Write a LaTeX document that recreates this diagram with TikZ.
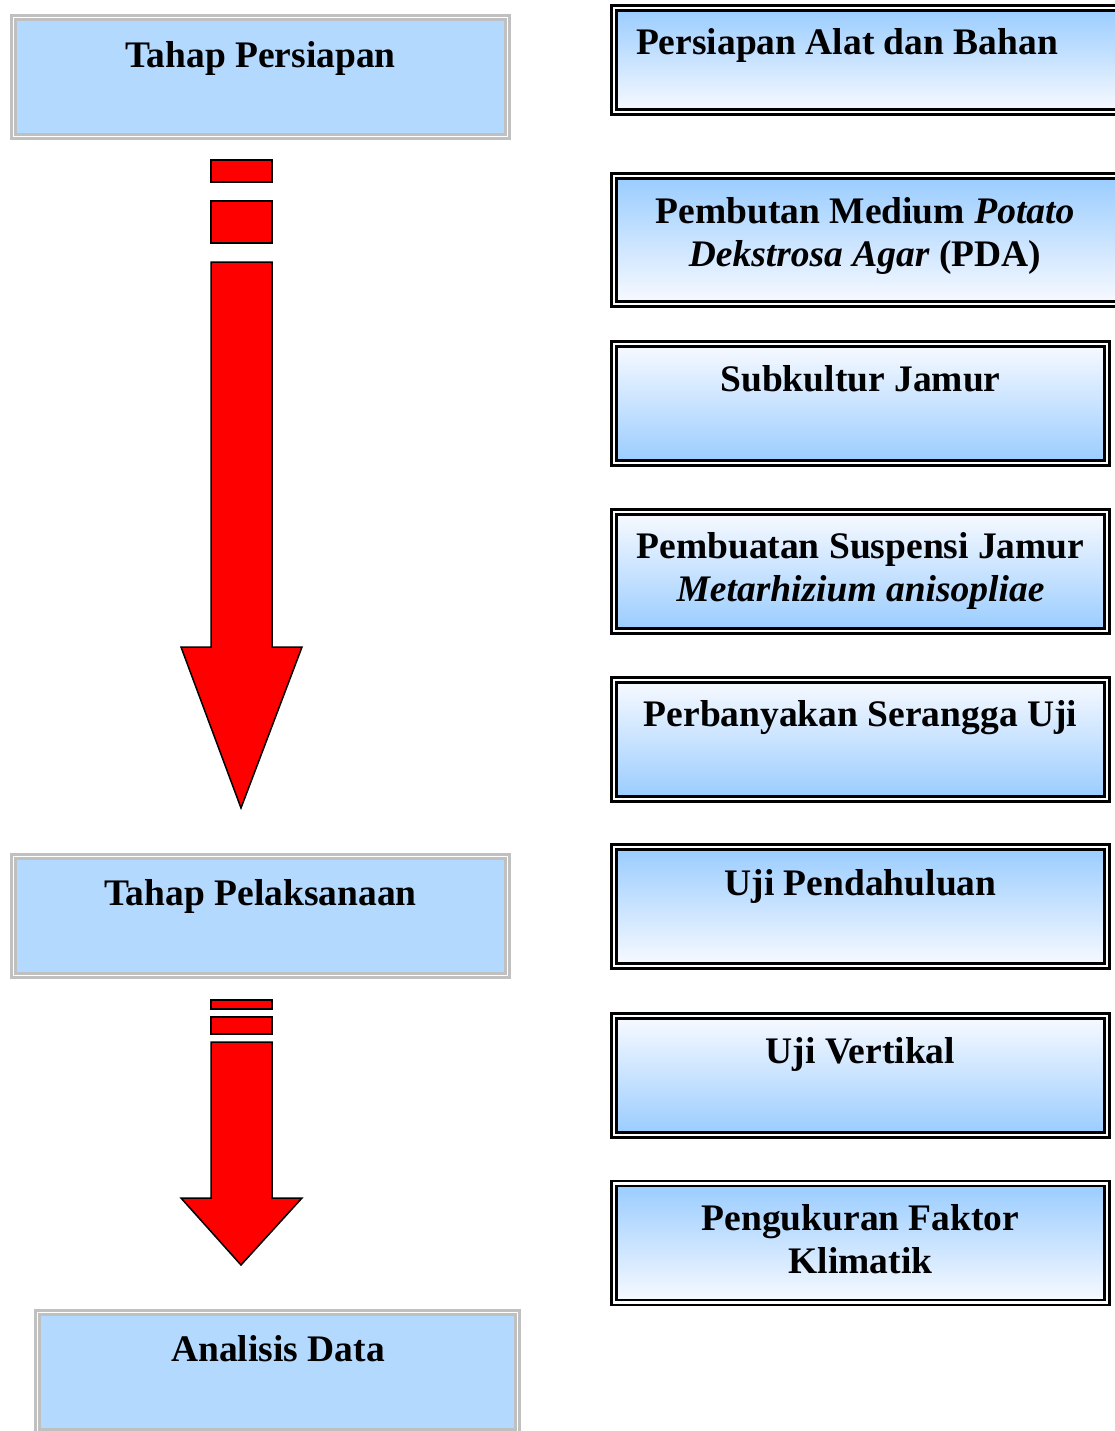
\documentclass[tikz,border=0pt]{standalone}
\usepackage{fontspec}
\setmainfont{Liberation Serif}
\definecolor{stagefill}{RGB}{179,217,255}
\definecolor{stageline}{RGB}{192,192,192}
\definecolor{stepblue}{RGB}{153,204,255}
\definecolor{stepwhite}{RGB}{248,250,255}
\definecolor{arrowred}{RGB}{255,0,0}
\begin{document}
\begin{tikzpicture}[x=1pt,y=-1pt,
    stagebox/.style={draw=stageline, double=white, line width=2.5pt, double distance=1.5pt,
      fill=stagefill, minimum width=494pt, minimum height=119pt, inner sep=0pt},
    stepbox/.style={draw=black, double=white, line width=2.5pt, double distance=2.5pt,
      minimum width=493pt, minimum height=119pt, inner sep=0pt},
    bluetop/.style={top color=stepblue, bottom color=stepwhite},
    bluebottom/.style={top color=stepwhite, bottom color=stepblue},
    boxtxt/.style={font=\fontsize{37.5}{43}\selectfont\bfseries, anchor=base, align=center, inner sep=0pt},
    blockarrow/.style={fill=arrowred, draw=black, line width=1.5pt, line join=miter}]
    \useasboundingbox (0,0) rectangle (1114,1431);

    % Left column: stages
    \node[stagebox] (persiapan) at (260.5,77) {};
    \node[boxtxt] (tpersiapan) at (260.5,67.5) {Tahap Persiapan};
    \node[stagebox] (pelaksanaan) at (260.5,916) {};
    \node[boxtxt] (tpelaksanaan) at (260.5,905) {Tahap Pelaksanaan};
    \node[stagebox, minimum width=480pt] (analisis) at (277.5,1372) {};
    \node[boxtxt] (tanalisis) at (278,1361) {Analisis Data};

    % Broken block arrows
    \draw[blockarrow] (211,160) rectangle (272,182);
    \draw[blockarrow] (211,201) rectangle (272,243);
    \draw[blockarrow] (211,262) -- (211,647) -- (181,647) -- (241,808)
      -- (302,647) -- (272,647) -- (272,262) -- cycle;

    \draw[blockarrow] (211,1000) rectangle (272,1009);
    \draw[blockarrow] (211,1017) rectangle (272,1034);
    \draw[blockarrow] (211,1042) -- (211,1198) -- (181,1198) -- (241,1265)
      -- (302,1198) -- (272,1198) -- (272,1042) -- cycle;

    % Right column: steps (multi-line text: base = last line)
    \node[stepbox, bluetop, minimum width=510pt, minimum height=104pt] (alat) at (869,60) {};
    \node[boxtxt] (talat) at (847,55) {Persiapan Alat dan Bahan};

    \node[stepbox, bluetop, minimum width=510pt, minimum height=128pt] (medium) at (869,240) {};
    \node[boxtxt] (tmedium) at (865,266.5) {Pembutan Medium \textit{Potato}\\ \textit{Dekstrosa Agar} (PDA)};

    \node[stepbox, bluebottom] (subkultur) at (860.5,403.5) {};
    \node[boxtxt] (tsubkultur) at (860.5,391.5) {Subkultur Jamur};

    \node[stepbox, bluebottom] (suspensi) at (860.5,571.5) {};
    \node[boxtxt] (tsuspensi) at (860.5,601.5) {Pembuatan Suspensi Jamur\\ \textit{Metarhizium anisopliae}};

    \node[stepbox, bluebottom] (serangga) at (860.5,739.5) {};
    \node[boxtxt] (tserangga) at (860.5,726.5) {Perbanyakan Serangga Uji};

    \node[stepbox, bluetop] (pendahuluan) at (860.5,906.5) {};
    \node[boxtxt] (tpendahuluan) at (860.5,895) {Uji Pendahuluan};

    \node[stepbox, bluebottom] (vertikal) at (860.5,1075.5) {};
    \node[boxtxt] (tvertikal) at (860.5,1063.5) {Uji Vertikal};

    \node[stepbox, bluetop] (klimatik) at (860.5,1243) {};
    \node[boxtxt] (tklimatik) at (860.5,1273.5) {Pengukuran Faktor\\ Klimatik};
\end{tikzpicture}
\end{document}
